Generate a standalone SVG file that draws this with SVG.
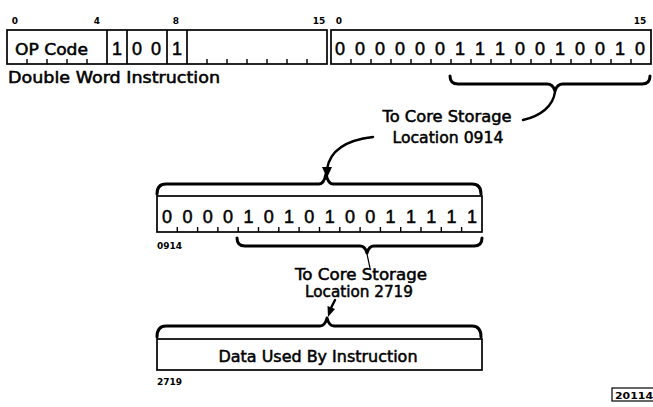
<svg xmlns="http://www.w3.org/2000/svg" width="653" height="407" viewBox="0 0 653 407">
<style>
.box{fill:none;stroke:#000;stroke-width:1.7}
.tk{stroke:#000;stroke-width:1.4}
.d{font-family:"Liberation Sans",Arial,sans-serif;font-size:18px;text-anchor:middle;fill:#000;stroke:#000;stroke-width:0.5}
.lb{font-family:"DejaVu Sans",Arial,sans-serif;font-size:9px;font-weight:bold;fill:#000}
.tx{font-family:"DejaVu Sans",Arial,sans-serif;font-size:15px;fill:#000;stroke:#000;stroke-width:0.5}
.br{fill:none;stroke:#000;stroke-width:3;stroke-linejoin:round;stroke-linecap:round}
.cv{fill:none;stroke:#000;stroke-width:2.4;stroke-linecap:round}
</style>
<rect width="653" height="407" fill="#fff"/>

<g id="bit-labels">
<text class="lb" x="15" y="24" text-anchor="middle">0</text>
<text class="lb" x="97" y="24" text-anchor="middle">4</text>
<text class="lb" x="176" y="24" text-anchor="middle">8</text>
<text class="lb" x="319" y="24" text-anchor="middle">15</text>
<text class="lb" x="339" y="24" text-anchor="middle">0</text>
<text class="lb" x="640" y="24" text-anchor="middle">15</text>
</g>

<g id="word1">
<rect class="box" x="7" y="30" width="320" height="34"/>
<line class="box" x1="107" y1="30" x2="107" y2="64"/>
<line class="box" x1="127" y1="30" x2="127" y2="64"/>
<line class="box" x1="167" y1="30" x2="167" y2="64"/>
<line class="box" x1="187" y1="30" x2="187" y2="64"/>
<path class="tk" d="M27,64v-5M47,64v-5M67,64v-5M87,64v-5M207,64v-5M227,64v-5M247,64v-5M267,64v-5M287,64v-5M307,64v-5"/>
<text class="tx" x="15" y="55" font-size="18" textLength="73" lengthAdjust="spacingAndGlyphs">OP Code</text>
<text class="d" x="117" y="55">1</text>
<text class="d" x="137" y="55">0</text>
<text class="d" x="156" y="55">0</text>
<text class="d" x="177" y="55">1</text>
</g>

<g id="word2">
<rect class="box" x="331" y="30" width="320" height="34"/>
<path class="tk" d="M351,64v-5M371,64v-5M391,64v-5M411,64v-5M431,64v-5M451,64v-5M471,64v-5M491,64v-5M511,64v-5M531,64v-5M551,64v-5M571,64v-5M591,64v-5M611,64v-5M631,64v-5"/>
<text class="d" x="340" y="55">0</text>
<text class="d" x="360" y="55">0</text>
<text class="d" x="380" y="55">0</text>
<text class="d" x="400" y="55">0</text>
<text class="d" x="420" y="55">0</text>
<text class="d" x="440" y="55">0</text>
<text class="d" x="460" y="55">1</text>
<text class="d" x="480" y="55">1</text>
<text class="d" x="500" y="55">1</text>
<text class="d" x="520" y="55">0</text>
<text class="d" x="540" y="55">0</text>
<text class="d" x="560" y="55">1</text>
<text class="d" x="580" y="55">0</text>
<text class="d" x="600" y="55">0</text>
<text class="d" x="620" y="55">1</text>
<text class="d" x="640" y="55">0</text>
</g>

<g id="caption">
<text class="tx" x="8" y="83" font-size="14" textLength="212" lengthAdjust="spacingAndGlyphs">Double Word Instruction</text>
</g>

<g id="label1">
<text class="tx" x="447" y="122" text-anchor="middle" textLength="129" lengthAdjust="spacingAndGlyphs">To Core Storage</text>
<text class="tx" x="448" y="143" text-anchor="middle" textLength="111" lengthAdjust="spacingAndGlyphs">Location 0914</text>
</g>

<g id="word0914">
<rect class="box" x="157" y="196" width="325" height="36"/>
<path class="tk" d="M177.3,232v-5M197.6,232v-5M217.9,232v-5M238.2,232v-5M258.5,232v-5M278.8,232v-5M299.1,232v-5M319.5,232v-5M339.8,232v-5M360.1,232v-5M380.4,232v-5M400.7,232v-5M421,232v-5M441.3,232v-5M461.6,232v-5"/>
<text class="d" x="167" y="223">0</text>
<text class="d" x="187.4" y="223">0</text>
<text class="d" x="207.7" y="223">0</text>
<text class="d" x="228" y="223">0</text>
<text class="d" x="248.4" y="223">1</text>
<text class="d" x="268.7" y="223">0</text>
<text class="d" x="289" y="223">1</text>
<text class="d" x="309.3" y="223">0</text>
<text class="d" x="329.7" y="223">1</text>
<text class="d" x="350" y="223">0</text>
<text class="d" x="370.3" y="223">0</text>
<text class="d" x="390.6" y="223">1</text>
<text class="d" x="411" y="223">1</text>
<text class="d" x="431.3" y="223">1</text>
<text class="d" x="451.6" y="223">1</text>
<text class="d" x="472" y="223">1</text>
<text class="lb" x="157" y="249">0914</text>
</g>

<g id="label2">
<text class="tx" x="361" y="280" text-anchor="middle" textLength="132" lengthAdjust="spacingAndGlyphs">To Core Storage</text>
<text class="tx" x="359" y="297" text-anchor="middle" textLength="108" lengthAdjust="spacingAndGlyphs">Location 2719</text>
</g>

<g id="data2719">
<rect class="box" x="157" y="339" width="325" height="31"/>
<text class="tx" x="318" y="362" text-anchor="middle" textLength="199" lengthAdjust="spacingAndGlyphs">Data Used By Instruction</text>
<text class="lb" x="157" y="385">2719</text>
</g>

<g id="figure-number">
<rect x="612" y="388" width="50" height="13" fill="none" stroke="#000" stroke-width="1.2"/>
<text class="lb" x="615" y="398.5" font-size="10" textLength="38" lengthAdjust="spacingAndGlyphs">20114</text>
</g>

<g id="connectors">
<path class="br" d="M450,76 Q450,84 458,84 L547,84 Q553,84 555,91 Q557,84 563,84 L642,84 Q650,84 650,76"/>
<path class="cv" d="M555,92 C553,106 541,116 523,120"/>
<path class="cv" d="M373,137 C347,140 330,150 327,169"/>
<polygon points="322,167 332,167 327,178" fill="#000"/>
<path class="br" d="M157,194 Q157,184 166,184 L319,184 Q324,184 326,174 Q328,184 333,184 L472,184 Q481,184 481,194"/>
<path class="br" d="M237,238 Q237,246 245,246 L360,246 Q365,246 367,253 Q369,246 374,246 L474,246 Q482,246 482,238"/>
<path d="M367,254 L370,268" stroke="#000" stroke-width="1.2" fill="none"/>
<path class="cv" d="M335,300 L331,308"/>
<polygon points="335,309 327.5,306 328,317" fill="#000"/>
<path class="br" d="M157,337 Q157,326 166,326 L320,326 Q325,326 327,318 Q329,326 334,326 L472,326 Q481,326 481,337"/>
</g>
</svg>
